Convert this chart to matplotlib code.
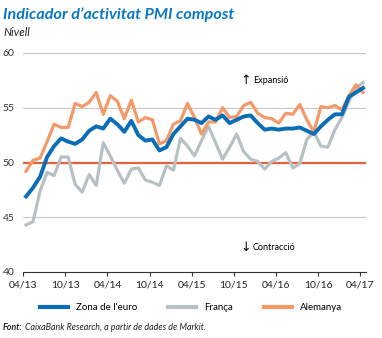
import numpy as np
import matplotlib
matplotlib.use("Agg")
import matplotlib.pyplot as plt

plt.rcParams['font.family'] = ['Lato', 'DejaVu Sans']

# monthly composite PMI, 04/2013 .. 04/2017
zona_euro = [46.9, 47.7, 48.7, 50.5, 51.5, 52.2, 51.9, 51.7, 52.1,
             52.9, 53.3, 53.1, 54.0, 53.5, 52.8, 53.8, 52.5, 52.0, 52.1, 51.1, 51.4,
             52.6, 53.3, 54.0, 53.9, 53.6, 54.2, 53.9, 54.3, 53.6, 53.9, 54.2, 54.3,
             53.6, 53.0, 53.1, 53.0, 53.1, 53.1, 53.2, 52.9, 52.6, 53.3, 53.9, 54.4,
             54.4, 56.0, 56.4, 56.8]
franca = [44.3, 44.6, 47.4, 49.1, 48.8, 50.5, 50.5, 48.0, 47.3,
          48.9, 47.9, 51.8, 50.6, 49.3, 48.1, 49.4, 49.5, 48.4, 48.2, 47.9, 49.7,
          49.3, 52.2, 51.5, 50.6, 52.0, 53.3, 51.8, 50.3, 51.4, 52.6, 51.0, 50.3,
          50.1, 49.4, 50.1, 50.4, 50.9, 49.5, 49.9, 52.1, 52.8, 51.5, 51.4, 53.0,
          54.1, 55.6, 56.8, 57.3]
alemanya = [49.2, 50.2, 50.4, 51.9, 53.5, 53.2, 53.2, 55.4, 55.1,
            55.5, 56.4, 54.4, 56.1, 55.6, 54.0, 55.7, 53.7, 54.1, 53.9, 51.7, 52.0,
            53.5, 53.8, 55.4, 54.1, 52.6, 53.7, 53.7, 55.0, 54.1, 54.2, 55.2, 55.5,
            54.5, 54.1, 54.0, 53.6, 54.5, 54.4, 55.3, 53.9, 52.8, 55.1, 55.0, 55.2,
            54.8, 56.1, 57.1, 56.4]
tick_labels = ['04/13', '10/13', '04/14', '10/14', '04/15', '10/15', '04/16', '10/16', '04/17']

blue = '#0b6db5'
grey = '#b7c1c5'
orange = '#f39a68'
red = '#e8603c'

W, H = 382, 338
fig = plt.figure(figsize=(W / 100, H / 100), dpi=100)
ax = fig.add_axes([23 / W, 1 - 272 / H, 343 / W, 219 / H])

x = np.arange(len(zona_euro))
ax.plot(x, franca, color=grey, lw=2.3, label='França', zorder=3)
ax.plot(x, alemanya, color=orange, lw=2.3, label='Alemanya', zorder=3)
ax.plot(x, zona_euro, color=blue, lw=2.8, label="Zona de l'euro", zorder=4)
ax.axhline(50, color=red, lw=1.6, zorder=2)

for yv in [45, 55, 60]:
    ax.axhline(yv, color='#c8c8c8', lw=0.8, zorder=1)

ax.set_xlim(-0.43, 48.43)
ax.set_ylim(40, 60)
ax.set_yticks([40, 45, 50, 55, 60])
ax.set_xticks(np.arange(0, 49, 6) - 0.4)
ax.set_xticklabels(tick_labels)
for s in ['top', 'right', 'left']:
    ax.spines[s].set_visible(False)
ax.spines['bottom'].set_color('#333333')
ax.spines['bottom'].set_linewidth(0.8)
ax.tick_params(axis='y', length=0, labelsize=7.5, labelcolor='#333333', pad=6)
ax.tick_params(axis='x', length=3, width=0.8, color='#333333', labelsize=7.5,
               labelcolor='#222222', pad=3)

ax.text(31.3, 57.45, '↑', fontsize=9, va='center', ha='center', family=['DejaVu Sans'])
ax.text(32.3, 57.45, 'Expansió', fontsize=6.5, va='center', ha='left')
ax.text(31.3, 42.2, '↓', fontsize=9, va='center', ha='center', family=['DejaVu Sans'])
ax.text(32.3, 42.2, 'Contracció', fontsize=6.5, va='center', ha='left')

h, l = ax.get_legend_handles_labels()
order = [2, 0, 1]
leg = fig.legend([h[i] for i in order], [l[i] for i in order], ncol=3, frameon=False,
                 loc='center', bbox_to_anchor=(191 / W, 1 - 308 / H),
                 fontsize=7, handlelength=2.9, columnspacing=3.2, handletextpad=0.8)
for ln in leg.get_lines():
    ln.set_linewidth(3)

fig.text(3 / W, 1 - 19 / H, 'Indicador d’activitat PMI compost', color='#0a78c2',
         fontsize=11.6, fontweight='bold', fontstyle='italic', va='baseline')
fig.text(3 / W, 1 - 36 / H, 'Nivell', color='#222222', fontsize=8.2,
         fontstyle='italic', va='baseline')

t = fig.text(3 / W, 1 - 330 / H, 'Font:', fontsize=6.4, fontweight='bold',
             fontstyle='italic', va='baseline', color='#222222')
r = fig.canvas.get_renderer()
bb = t.get_window_extent(renderer=r)
fig.text((bb.x1 + 2) / W, 1 - 330 / H, 'CaixaBank Research, a partir de dades de Markit.',
         fontsize=6.4, fontstyle='italic', va='baseline', color='#222222')

fig.savefig('out.png', dpi=100)
